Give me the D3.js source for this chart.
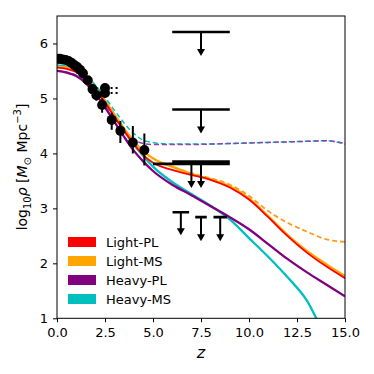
<!DOCTYPE html>
<html><head><meta charset="utf-8">
<script src="https://cdn.jsdelivr.net/npm/d3@7"></script>
<style>body{margin:0;background:#fff} svg{display:block} text{font-family:"DejaVu Sans",sans-serif}</style>
</head><body><svg id="c" width="374" height="374"></svg>
<script>
// ---- data ----
const zGrid = [0,0.5,1,1.5,2,2.5,3,3.5,4,4.5,5,6,7,8,9,10,11,12,13,14,15];
const lightPL = [5.56,5.54,5.48,5.36,5.16,4.93,4.66,4.41,4.17,3.97,3.83,3.70,3.61,3.52,3.38,3.16,2.84,2.50,2.20,1.95,1.73];
const lightMS = [5.58,5.56,5.50,5.38,5.19,4.96,4.70,4.45,4.22,4.04,3.91,3.76,3.63,3.53,3.40,3.18,2.86,2.52,2.23,1.99,1.77];
const heavyPL = [5.50,5.47,5.41,5.28,5.08,4.84,4.57,4.30,4.05,3.85,3.68,3.43,3.24,3.04,2.84,2.62,2.35,2.08,1.84,1.62,1.40];
const heavyMS = [5.60,5.58,5.52,5.40,5.20,4.96,4.69,4.42,4.16,3.95,3.76,3.48,3.26,3.05,2.80,2.46,2.12,1.75,1.33,0.65,0.00];
const lightMSdash = [5.58,5.56,5.50,5.38,5.19,4.96,4.70,4.45,4.22,4.04,3.91,3.76,3.64,3.55,3.43,3.23,2.95,2.74,2.58,2.44,2.39];
const heavyPLdash = [5.50,5.48,5.42,5.31,5.13,4.90,4.65,4.42,4.25,4.18,4.16,4.16,4.16,4.17,4.18,4.19,4.20,4.21,4.22,4.23,4.18];
const heavyMSdash = [5.60,5.58,5.53,5.42,5.24,5.02,4.78,4.55,4.36,4.24,4.20,4.17,4.17,4.17,4.18,4.19,4.20,4.21,4.22,4.23,4.17];

const obsZ  = [0.05,0.15,0.3,0.45,0.6,0.75,0.9,1.05,1.2,1.35,1.6,1.85,2.05,2.35,2.85,3.3,3.95,4.55];
const obsV  = [5.72,5.72,5.71,5.70,5.68,5.65,5.61,5.57,5.52,5.46,5.33,5.17,5.06,4.88,4.61,4.41,4.20,4.06];
const obsLo = [0.03,0.03,0.03,0.03,0.03,0.03,0.03,0.03,0.04,0.04,0.06,0.08,0.10,0.14,0.18,0.22,0.20,0.28];
const obsHi = [0.03,0.03,0.03,0.03,0.03,0.03,0.03,0.03,0.04,0.04,0.06,0.08,0.10,0.12,0.13,0.18,0.30,0.30];

const dotZ = [2.5,2.5];
const dotV = [5.19,5.10];
const dotXerr = [0.75,0.75];

const ulZ    = [7.5,7.5,7.0,7.5,6.45,7.5,8.5];
const ulV    = [6.21,4.80,3.81,3.85,2.93,2.84,2.84];
const ulXerr = [1.5,1.5,2.0,1.5,0.43,0.3,0.35];
const ulLen  = [0.42,0.42,0.42,0.46,0.40,0.42,0.42];

const legendNames  = ["Light-PL","Light-MS","Heavy-PL","Heavy-MS"];
const legendColors = ["#ff0000","#ffa500","#800080","#00bfbf"];
const xTicks = [0,2.5,5,7.5,10,12.5,15];
const yTicks = [1,2,3,4,5,6];

// ---- drawing ----
const svg = d3.select("#c");
const x = d3.scaleLinear([0,15],[57,345]);
const y = d3.scaleLinear([1,6.5],[318.3,16]);

svg.append("defs").append("clipPath").attr("id","clip")
  .append("rect").attr("x",57).attr("y",16).attr("width",288).attr("height",302.3);

const g = svg.append("g").attr("clip-path","url(#clip)");
const line = d3.line().x(d=>x(d[0])).y(d=>y(d[1])).curve(d3.curveMonotoneX);
const pts = arr => zGrid.map((z,i)=>[z,arr[i]]);

const curves = [
  {d:heavyMSdash,c:"#00bfbf",dash:"5,3",w:1.5},
  {d:heavyPLdash,c:"#8e44ad",dash:"5,3",w:1.5},
  {d:lightMSdash,c:"#ff9a1a",dash:"5,3",w:1.8},
  {d:heavyMS,c:"#00bfbf",w:2.3},
  {d:heavyPL,c:"#800080",w:2.3},
  {d:lightMS,c:"#ffa500",w:2.3},
  {d:lightPL,c:"#ff0000",w:1.8},
];
curves.forEach(cv=>{
  g.append("path").attr("d",line(pts(cv.d))).attr("fill","none")
   .attr("stroke",cv.c).attr("stroke-width",cv.w)
   .attr("stroke-dasharray",cv.dash||null);
});

// dotted x-error points
dotZ.forEach((z,i)=>{
  g.append("line").attr("x1",x(z-dotXerr[i])).attr("x2",x(z+dotXerr[i]))
   .attr("y1",y(dotV[i])).attr("y2",y(dotV[i]))
   .attr("stroke","#000").attr("stroke-width",2).attr("stroke-dasharray","2,3");
  g.append("circle").attr("cx",x(z)).attr("cy",y(dotV[i])).attr("r",5).attr("fill","#000");
});

// observations
obsZ.forEach((z,i)=>{
  g.append("line").attr("x1",x(z)).attr("x2",x(z))
   .attr("y1",y(obsV[i]-obsLo[i])).attr("y2",y(obsV[i]+obsHi[i]))
   .attr("stroke","#000").attr("stroke-width",2);
  g.append("circle").attr("cx",x(z)).attr("cy",y(obsV[i])).attr("r",5).attr("fill","#000");
});

// upper limits
ulZ.forEach((z,i)=>{
  const yv = y(ulV[i]), ye = y(ulV[i]-ulLen[i]);
  g.append("line").attr("x1",x(z-ulXerr[i])).attr("x2",x(z+ulXerr[i]))
   .attr("y1",yv).attr("y2",yv).attr("stroke","#000").attr("stroke-width",2.6);
  g.append("line").attr("x1",x(z)).attr("x2",x(z)).attr("y1",yv).attr("y2",ye-3)
   .attr("stroke","#000").attr("stroke-width",2);
  g.append("path").attr("d",`M${x(z)-4},${ye-6}L${x(z)+4},${ye-6}L${x(z)},${ye+1}Z`).attr("fill","#000");
});

// axes
const ax = svg.append("g").attr("transform","translate(0,318.3)")
  .call(d3.axisBottom(x).tickValues(xTicks).tickFormat(d3.format(".1f")).tickSize(4).tickPadding(5));
const ay = svg.append("g").attr("transform","translate(57,0)")
  .call(d3.axisLeft(y).tickValues(yTicks).tickFormat(d3.format("d")).tickSize(4).tickPadding(5));
[ax,ay].forEach(a=>{a.select(".domain").remove();
  a.selectAll("text").attr("font-size",13).attr("fill","#000").attr("font-family","DejaVu Sans");
  a.selectAll("line").attr("stroke","#000");});
svg.append("rect").attr("x",57).attr("y",16).attr("width",288).attr("height",302.3)
  .attr("fill","none").attr("stroke","#000").attr("stroke-width",1);

// legend
legendNames.forEach((n,i)=>{
  const yy = 242 + i*19;
  svg.append("rect").attr("x",68).attr("y",yy-5).attr("width",28).attr("height",10).attr("fill",legendColors[i]);
  svg.append("text").attr("x",106).attr("y",yy+4.7).attr("font-size",13).text(n);
});

// labels
svg.append("text").attr("x",201).attr("y",358).attr("text-anchor","middle")
  .attr("font-size",16).attr("font-style","italic").text("z");
const yl = svg.append("text").attr("transform","translate(27,167) rotate(-90)")
  .attr("text-anchor","middle").attr("font-size",14);
yl.append("tspan").text("log");
yl.append("tspan").attr("font-size",10).attr("dy",4).text("10");
yl.append("tspan").attr("dy",-4).attr("font-style","italic").text("ρ");
yl.append("tspan").text(" [");
yl.append("tspan").attr("font-style","italic").text("M");
yl.append("tspan").attr("font-size",10).attr("dy",4).text("⊙");
yl.append("tspan").attr("dy",-4).text(" Mpc");
yl.append("tspan").attr("font-size",10).attr("dy",-6).text("−3");
yl.append("tspan").attr("dy",6).text("]");
</script></body></html>
